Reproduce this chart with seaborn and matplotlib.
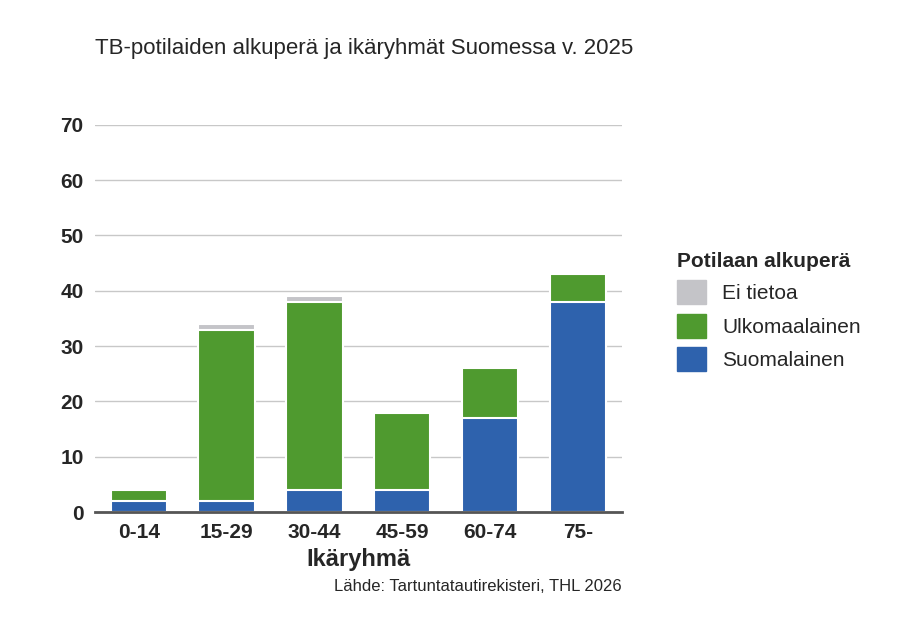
import matplotlib
matplotlib.use("Agg")
import matplotlib.pyplot as plt
import seaborn as sns
import pandas as pd
from matplotlib.patches import Patch

groups = ["0-14", "15-29", "30-44", "45-59", "60-74", "75-"]
suomalainen = [2, 2, 4, 4, 17, 38]
ulkomaalainen = [2, 31, 34, 14, 9, 5]
ei_tietoa = [0, 1, 1, 0, 0, 0]

BLUE, GREEN, GREY = "#2e62ad", "#4f9a2f", "#c4c4c8"

sns.set_style("white")
plt.rcParams["font.family"] = ["Liberation Sans", "DejaVu Sans"]

df = pd.DataFrame({"group": groups, "s": suomalainen, "u": ulkomaalainen, "e": ei_tietoa})
df["su"] = df["s"] + df["u"]
df["total"] = df["su"] + df["e"]

fig = plt.figure(figsize=(9.2, 6.3), dpi=100)
ax = fig.add_axes([0.103, 0.187, 0.573, 0.615])

for col, color in [("total", GREY), ("su", GREEN), ("s", BLUE)]:
    sns.barplot(data=df, x="group", y=col, color=color, width=0.64,
                edgecolor="white", linewidth=1.5, ax=ax, saturation=1)

ax.set_ylim(0, 70)
ax.set_yticks(range(0, 71, 10))
ax.yaxis.grid(True, color="#c8c8c8", linewidth=1)
ax.set_axisbelow(True)
for s in ["top", "right", "left"]:
    ax.spines[s].set_visible(False)
ax.spines["bottom"].set_color("#555555")
ax.spines["bottom"].set_linewidth(2)
ax.tick_params(axis="both", length=0, labelsize=15, pad=8)
for lbl in ax.get_xticklabels() + ax.get_yticklabels():
    lbl.set_fontweight("bold")
ax.set_ylabel("")
ax.set_xlabel("Ikäryhmä", fontsize=17, fontweight="bold", labelpad=4)

fig.text(0.103, 0.915, "TB-potilaiden alkuperä ja ikäryhmät Suomessa v. 2025", fontsize=16)
fig.text(0.676, 0.062, "Lähde: Tartuntatautirekisteri, THL 2026", fontsize=12, ha="right")

handles = [Patch(color=GREY), Patch(color=GREEN), Patch(color=BLUE)]
leg = fig.legend(handles, ["Ei tietoa", "Ulkomaalainen", "Suomalainen"],
                 title="Potilaan alkuperä", loc="upper left", bbox_to_anchor=(0.715, 0.63),
                 frameon=False, fontsize=15, title_fontsize=15,
                 handlelength=1.4, handleheight=1.4, labelspacing=0.45)
leg.get_title().set_fontweight("bold")
leg._legend_box.align = "left"

fig.savefig("out.png", dpi=100)
